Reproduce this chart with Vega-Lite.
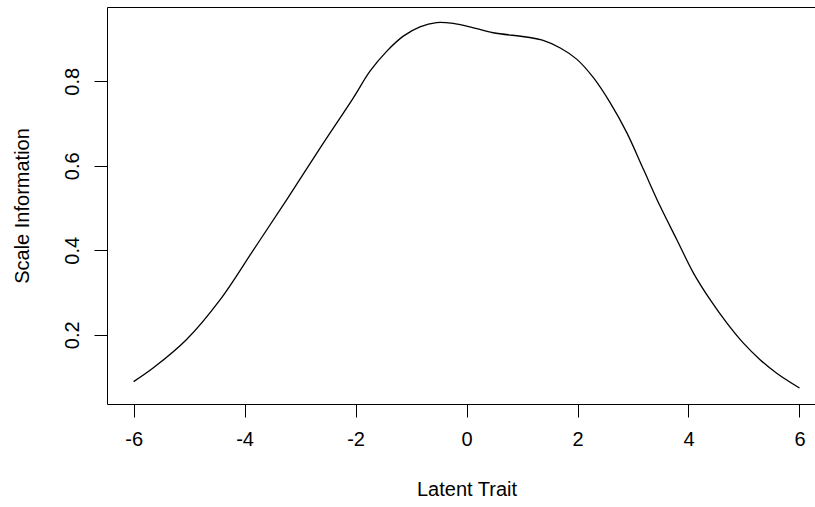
{
  "$schema": "https://vega.github.io/schema/vega-lite/v6.json",
  "width": 708,
  "height": 397,
  "autosize": {"type": "none"},
  "padding": {"left": 107, "top": 7, "right": 0, "bottom": 103},
  "background": "white",
  "config": {
    "view": {"stroke": null},
    "axis": {
      "grid": false,
      "domainColor": "black",
      "domainWidth": 1,
      "tickColor": "black",
      "tickWidth": 1,
      "tickSize": 13,
      "labelFont": "Liberation Sans",
      "labelFontSize": 20,
      "labelColor": "black",
      "titleFont": "Liberation Sans",
      "titleFontSize": 20,
      "titleFontWeight": "normal",
      "titleColor": "black"
    }
  },
  "data": {
    "values": [
      {"theta": -6.0, "info": 0.089},
      {"theta": -5.65, "info": 0.121},
      {"theta": -5.05, "info": 0.188},
      {"theta": -4.44, "info": 0.283},
      {"theta": -3.84, "info": 0.401},
      {"theta": -3.24, "info": 0.52},
      {"theta": -2.64, "info": 0.642},
      {"theta": -2.04, "info": 0.761},
      {"theta": -1.74, "info": 0.824},
      {"theta": -1.44, "info": 0.871},
      {"theta": -1.14, "info": 0.907},
      {"theta": -0.84, "info": 0.929},
      {"theta": -0.54, "info": 0.939},
      {"theta": -0.24, "info": 0.937},
      {"theta": 0.06, "info": 0.929},
      {"theta": 0.48, "info": 0.915},
      {"theta": 1.08, "info": 0.905},
      {"theta": 1.38, "info": 0.897},
      {"theta": 1.69, "info": 0.879},
      {"theta": 1.99, "info": 0.852},
      {"theta": 2.29, "info": 0.808},
      {"theta": 2.59, "info": 0.749},
      {"theta": 2.89, "info": 0.678},
      {"theta": 3.19, "info": 0.591},
      {"theta": 3.49, "info": 0.504},
      {"theta": 3.79, "info": 0.425},
      {"theta": 4.09, "info": 0.346},
      {"theta": 4.39, "info": 0.283},
      {"theta": 4.69, "info": 0.228},
      {"theta": 4.99, "info": 0.18},
      {"theta": 5.29, "info": 0.141},
      {"theta": 5.59, "info": 0.109},
      {"theta": 6.0, "info": 0.074}
    ]
  },
  "layer": [
    {
      "mark": {"type": "line", "color": "black", "strokeWidth": 1.3, "interpolate": "catmull-rom"},
      "encoding": {
        "x": {
          "field": "theta",
          "type": "quantitative",
          "scale": {"domain": [-6.48, 6.28], "nice": false, "zero": false},
          "axis": {
            "orient": "bottom",
            "title": "Latent Trait",
            "values": [-6, -4, -2, 0, 2, 4, 6],
            "labelExpr": "'' + datum.value",
            "labelPadding": 12,
            "labelFlush": false,
            "labelOverlap": false,
            "titlePadding": 30,
            "titleX": 359.5
          }
        },
        "y": {
          "field": "info",
          "type": "quantitative",
          "scale": {"domain": [0.036, 0.976], "nice": false, "zero": false},
          "axis": {
            "orient": "left",
            "title": "Scale Information",
            "values": [0.2, 0.4, 0.6, 0.8],
            "format": ".1f",
            "labelAngle": 270,
            "labelAlign": "center",
            "labelBaseline": "bottom",
            "labelPadding": 12,
            "labelFlush": false,
            "labelOverlap": false,
            "titlePadding": 30
          }
        }
      }
    },
    {
      "mark": {"type": "line", "opacity": 0},
      "encoding": {
        "x": {
          "field": "theta",
          "type": "quantitative",
          "axis": {"orient": "top", "labels": false, "ticks": false, "title": null, "domain": true}
        },
        "y": {"field": "info", "type": "quantitative"}
      }
    }
  ],
  "resolve": {"axis": {"x": "independent"}}
}
